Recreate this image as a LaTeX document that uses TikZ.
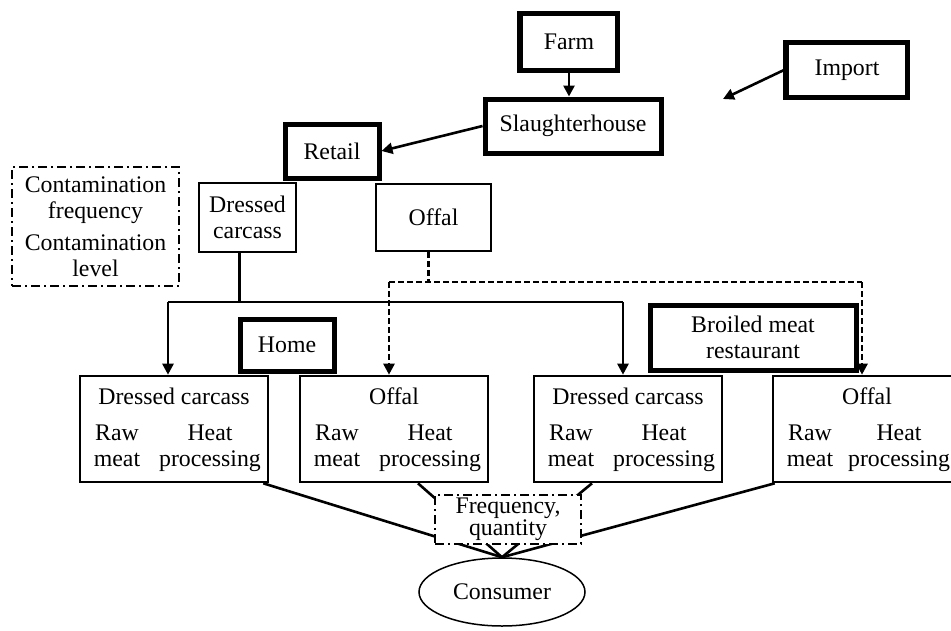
\documentclass[tikz,border=0pt]{standalone}
\usepackage{fontspec}
\setmainfont{Liberation Serif}
\usetikzlibrary{arrows.meta,shapes.geometric,calc}
\begin{document}
\begin{tikzpicture}[x=1pt,y=-1pt,
  every node/.style={font=\fontsize{23.8}{26.5}\selectfont, inner sep=0pt},
  thickbox/.style={draw, line width=5pt, fill=white, minimum width=#1},
  thinbox/.style={draw, line width=2.6pt, fill=white},
  lowbox/.style={draw, line width=2.6pt, minimum width=188pt, minimum height=106pt},
  conn/.style={line width=2.6pt},
  arr/.style={line width=2.6pt, -{Triangle[length=11pt,width=11pt]}},
  dashconn/.style={line width=2.6pt, dash pattern=on 6pt off 3pt},
  dashdotbox/.style={draw, line width=2pt, dash pattern=on 9pt off 4pt on 2pt off 4pt, fill=white},
  txt/.style={anchor=base},
]
\useasboundingbox (0,0) rectangle (951,630);

% top part
\node[thickbox=97pt, minimum height=57pt] (farm) at (569,42) {Farm};
\draw[line width=1.5pt] ([xshift=-0.5pt]farm.north west) -- ([xshift=-0.5pt]farm.south west);
\node[thickbox=176pt, minimum height=54pt] (slaughter) at (573,126) {Slaughterhouse};
\node[thickbox=121pt, minimum height=55pt] (import) at (847,70) {Import};
\draw[line width=1.5pt] ([xshift=-0.5pt]import.north west) -- ([xshift=-0.5pt]import.south west);
\coordinate (impend) at (723,99);
\node[thickbox=94pt, minimum height=54pt] (retail) at (332,151) {Retail};

\draw[arr] (farm.south) -- (farm.south |- slaughter.north);
\draw[arr] (import.west) -- (impend);
\draw[arr] (slaughter.west) -- (retail.east);

\node[thinbox, minimum width=97pt, minimum height=69pt, align=center] (dcR) at (247.5,217.5) {Dressed\\carcass};
\node[thinbox, minimum width=115pt, minimum height=67pt] (offR) at (433.5,217.5) {Offal};

\node[dashdotbox, minimum width=167pt, minimum height=119pt, align=center] (contam) at (95.5,226.5)
  {Contamination\\frequency\\[5pt]Contamination\\level};

% distribution lines
\coordinate (h1) at (168,302);
\coordinate (h2) at (623,302);
\coordinate (d1) at (389,282);
\coordinate (d2) at (862,282);

% bottom boxes
\foreach \n/\cx/\t/\ho in {b1/174/Dressed carcass/36, b2/394/Offal/36, b3/628/Dressed carcass/36, b4/867/Offal/32} {
  \node[lowbox] (\n) at (\cx,429) {};
  \node[txt] (\n t) at (\cx,404) {\t};
  \node[txt] (\n r1) at (\cx-57,440) {Raw};
  \node[txt] (\n r2) at (\cx-57,466) {meat};
  \node[txt] (\n h1) at (\cx+\ho,440) {Heat};
  \node[txt] (\n h2) at (\cx+\ho,466) {processing};
}

\draw[conn] ([xshift=-8pt]dcR.south) -- ([xshift=-8pt]dcR.south |- h1);
\draw[conn] (h1) -- (h2);
\draw[arr] (h1) -- (h1 |- b1.north);
\draw[arr] (h2) -- (h2 |- b3.north);

\draw[dashconn] ([xshift=-5pt]offR.south) -- ([xshift=-5pt]offR.south |- d1);
\draw[dashconn] (d1) -- (d2);
\draw[dashconn, -{Triangle[length=11pt,width=11pt]}] (d1) -- (d1 |- b2.north);
\draw[dashconn, -{Triangle[length=11pt,width=11pt]}] (d2) -- (d2 |- b4.north);

\node[thickbox=94pt, minimum height=52pt] (home) at (287,345) {Home};
\node[thickbox=206pt, minimum height=65pt, align=center] (broiled) at (753,337.5) {Broiled meat\\restaurant};

% consumer
\node[ellipse, draw, line width=1.5pt, minimum width=166pt, minimum height=68pt] (consumer) at (502,592) {Consumer};
\draw[conn] ([xshift=-6pt]b1.south east) -- (consumer.north);
\draw[conn] ([xshift=24pt]b2.south) -- (consumer.north);
\draw[conn] ([xshift=-36pt]b3.south) -- (consumer.north);
\draw[conn] ([xshift=3pt]b4.south west) -- (consumer.north);

\node[dashdotbox, minimum width=146pt, minimum height=49pt, align=center,
      font=\fontsize{23.8}{22.5}\selectfont] (freq) at (508,519.5) {Frequency,\\quantity};
\end{tikzpicture}
\end{document}
